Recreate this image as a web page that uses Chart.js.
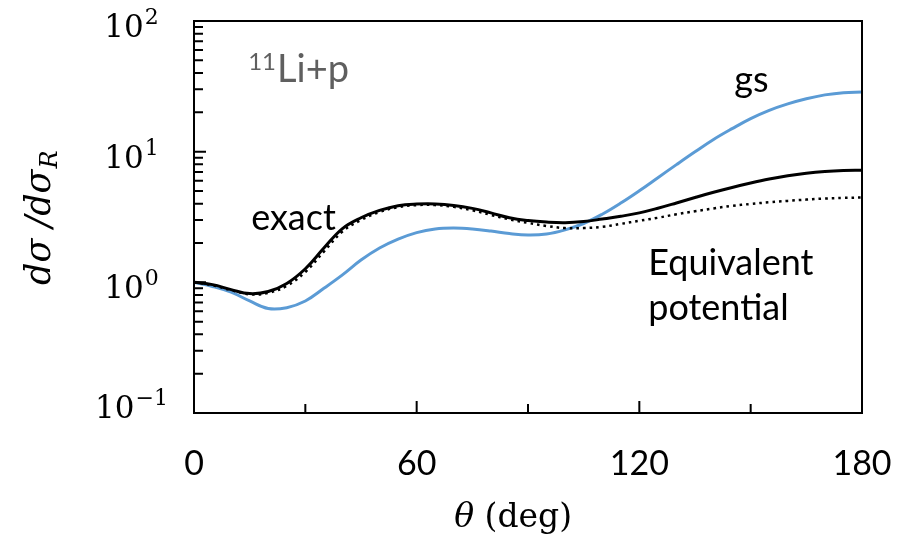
<!DOCTYPE html>
<html>
<head>
<meta charset="utf-8">
<script src="https://cdn.jsdelivr.net/npm/chart.js@4.4.0/dist/chart.umd.min.js"></script>
<style>
  html, body { margin: 0; padding: 0; background: #ffffff; }
  #wrap { width: 905px; height: 544px; }
</style>
</head>
<body>
<div id="wrap"><canvas id="xsec"></canvas></div>
<script>
"use strict";

// scattering angle in degrees
var theta = [0, 5, 10, 15, 20, 25, 30, 35, 40, 45, 50, 55, 60, 65, 70, 75, 80, 85, 90,
             95, 100, 105, 110, 115, 120, 125, 130, 135, 140, 145, 150, 155, 160, 165, 170, 175, 180];

// ratio to Rutherford, full calculation
var exact = [1.00, 0.96, 0.88, 0.82, 0.85, 0.98, 1.27, 1.83, 2.58, 3.12, 3.55, 3.86, 3.97, 3.98, 3.88, 3.68, 3.40, 3.12, 2.97,
             2.89, 2.86, 2.92, 3.05, 3.20, 3.40, 3.69, 4.05, 4.46, 4.89, 5.32, 5.75, 6.17, 6.55, 6.85, 7.06, 7.18, 7.22];

// equivalent local potential
var equiv = [1.00, 0.95, 0.87, 0.81, 0.83, 0.94, 1.20, 1.72, 2.45, 3.00, 3.45, 3.76, 3.90, 3.90, 3.78, 3.56, 3.28, 3.03, 2.85,
             2.70, 2.60, 2.60, 2.66, 2.80, 2.96, 3.12, 3.32, 3.50, 3.68, 3.85, 3.98, 4.10, 4.20, 4.30, 4.38, 4.43, 4.46];

// ground state only
var gs = [1.00, 0.93, 0.84, 0.72, 0.63, 0.64, 0.72, 0.90, 1.14, 1.48, 1.83, 2.14, 2.40, 2.56, 2.60, 2.56, 2.47, 2.36, 2.30,
          2.34, 2.52, 2.82, 3.32, 4.04, 5.02, 6.32, 7.96, 9.98, 12.4, 15.0, 17.9, 20.7, 23.2, 25.4, 27.2, 28.3, 28.6];

var xTicks = [0, 30, 60, 90, 120, 150, 180];
var xLabels = [0, 60, 120, 180];
var yDecades = [0.1, 1, 10, 100];
var yExponents = ['\u22121', '0', '1', '2'];

function pts(ys) {
  return theta.map(function (t, i) { return { x: t, y: ys[i] }; });
}

var SANS = 'Lato, "Open Sans", sans-serif';
var SERIF = '"DejaVu Serif", "Liberation Serif", serif';

var notes = [
  { text: 'exact', x: 15.4, y: 2.51 },
  { text: 'gs', x: 145.6, y: 28.6 },
  { text: 'Equivalent', x: 122.4, y: 1.137 },
  { text: 'potential', x: 122.4, y: 0.515 }
];

// frame, inward ticks, axis labels and text notes
var decor = {
  id: 'decor',
  afterDatasetsDraw: function (chart) {
    var ctx = chart.ctx, a = chart.chartArea;
    var xs = chart.scales.x, ys = chart.scales.y;
    ctx.save();
    ctx.strokeStyle = '#000000';
    ctx.lineWidth = 2;
    ctx.strokeRect(a.left, a.top, a.right - a.left, a.bottom - a.top);

    // x ticks
    ctx.beginPath();
    xTicks.forEach(function (v) {
      var px = xs.getPixelForValue(v);
      var len = (v % 60 === 0) ? 12 : 9;
      ctx.moveTo(px, a.bottom);
      ctx.lineTo(px, a.bottom - len);
    });
    // y ticks, majors at decades, minors at 2..9
    yDecades.forEach(function (d, k) {
      var py = ys.getPixelForValue(d);
      ctx.moveTo(a.left, py);
      ctx.lineTo(a.left + 12, py);
      if (k < yDecades.length - 1) {
        for (var m = 2; m <= 9; m++) {
          var pm = ys.getPixelForValue(d * m);
          ctx.moveTo(a.left, pm);
          ctx.lineTo(a.left + 9, pm);
        }
      }
    });
    ctx.stroke();

    ctx.fillStyle = '#000000';
    // x tick labels
    ctx.font = '34px ' + SANS;
    ctx.textAlign = 'center';
    ctx.textBaseline = 'middle';
    xLabels.forEach(function (v) {
      ctx.fillText(String(v), xs.getPixelForValue(v), a.bottom + 51);
    });

    // y tick labels as 10^n, the lowest one kept level with the axis
    ctx.textBaseline = 'alphabetic';
    ctx.textAlign = 'left';
    yDecades.forEach(function (d, k) {
      var py = Math.min(ys.getPixelForValue(d) + 16, a.bottom + 5);
      ctx.font = '31px ' + SERIF;
      var w1 = ctx.measureText('10').width;
      ctx.font = '22px ' + SERIF;
      var w2 = ctx.measureText(yExponents[k]).width;
      var x0 = 131 - (w1 + w2) / 2;
      ctx.font = '31px ' + SERIF;
      ctx.fillText('10', x0, py);
      ctx.font = '22px ' + SERIF;
      ctx.fillText(yExponents[k], x0 + w1 + 1, py - 13);
    });

    // x axis title
    ctx.font = 'italic 33px ' + SERIF;
    var tw = ctx.measureText('\u03b8').width;
    ctx.font = '33px ' + SERIF;
    var dw = ctx.measureText(' (deg)').width;
    var tx = xs.getPixelForValue(86) - (tw + dw) / 2;
    ctx.font = 'italic 33px ' + SERIF;
    ctx.fillText('\u03b8', tx, 527);
    ctx.font = '33px ' + SERIF;
    ctx.fillText(' (deg)', tx + tw, 527);

    // y axis title, rotated
    ctx.save();
    ctx.translate(50, 285);
    ctx.rotate(-Math.PI / 2);
    ctx.font = 'italic 35px ' + SERIF;
    ctx.fillText('d\u03c3 /d\u03c3', 0, 0);
    var sw = ctx.measureText('d\u03c3 /d\u03c3').width;
    ctx.font = 'italic 24px ' + SERIF;
    ctx.fillText('R', sw + 1, 7);
    ctx.restore();

    // notes inside the frame
    ctx.font = '36px ' + SANS;
    notes.forEach(function (n) {
      ctx.fillText(n.text, xs.getPixelForValue(n.x), ys.getPixelForValue(n.y));
    });

    // reaction label
    ctx.fillStyle = '#5f5f5f';
    var rx = xs.getPixelForValue(14.6), ry = ys.getPixelForValue(34);
    ctx.font = '24px ' + SANS;
    ctx.fillText('11', rx, ry - 12);
    var sup = ctx.measureText('11').width;
    ctx.font = '38px ' + SANS;
    ctx.fillText('Li+p', rx + sup + 1, ry);
    ctx.restore();
  }
};

var ctx = document.getElementById('xsec').getContext('2d');

var myChart = new Chart(ctx, {
  type: 'line',
  data: {
    datasets: [{
      label: 'exact',
      data: pts(exact),
      borderColor: '#000000',
      borderWidth: 3,
      order: 1
    },
    {
      label: 'Equivalent potential',
      data: pts(equiv),
      borderColor: '#000000',
      borderWidth: 2.5,
      borderDash: [2.6, 4],
      order: 2
    },
    {
      label: 'gs',
      data: pts(gs),
      borderColor: '#5b9bd5',
      borderWidth: 3,
      order: 3
    }]
  },
  options: {
    responsive: true,
    maintainAspectRatio: false,
    animation: false,
    events: [],
    layout: { padding: { left: 194, top: 21, right: 43, bottom: 131 } },
    elements: {
      point: { radius: 0 },
      line: { tension: 0.4, fill: false }
    },
    plugins: {
      legend: { display: false },
      tooltip: { enabled: false }
    },
    scales: {
      x: { type: 'linear', min: 0, max: 180, display: false },
      y: { type: 'logarithmic', min: 0.1, max: 100, display: false }
    }
  },
  plugins: [decor]
});
</script>
</body>
</html>
